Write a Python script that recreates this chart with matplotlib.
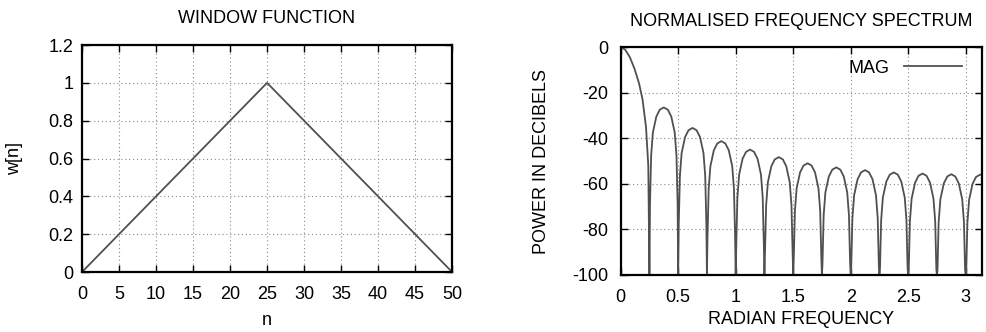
import numpy as np
import matplotlib
matplotlib.use("Agg")
import matplotlib.pyplot as plt

plt.rcParams['font.family'] = ['Liberation Sans', 'DejaVu Sans']
plt.rcParams['axes.unicode_minus'] = False

# window function (triangle), corner points
win_n = [0, 25, 50]
win_w = [0.0, 1.0, 0.0]

# spectrum: main lobe points
main_f = [0.0, 0.04, 0.08, 0.12, 0.16, 0.19, 0.22, 0.24, 0.25]
main_db = [0.0, -1.2, -4.5, -9.5, -16.0, -23.0, -35.0, -52.0, -100.0]

# side lobes: null positions and peak levels
null_f = [0.25, 0.50, 0.75, 1.00, 1.25, 1.50, 1.75, 2.00, 2.25, 2.50, 2.75, 3.00]
peak_db = [-26.5, -35.5, -41.3, -45.0, -48.3, -51.0, -52.8, -54.0, -55.0, -55.5, -55.8, -56.0]

# lobe outline seen on the plot: offset from a null and drop below the lobe peak
lobe_off = [0.0, 0.005, 0.015, 0.03, 0.06, 0.09, 0.125, 0.16, 0.19, 0.22, 0.235, 0.245, 0.25]
lobe_drop = [None, -42.0, -21.0, -11.0, -4.0, -1.0, 0.0, -1.0, -4.0, -11.0, -21.0, -42.0, None]


def spectrum_points():
    f = list(main_f)
    db = list(main_db)
    for a, p in zip(null_f, peak_db):
        for off, drop in zip(lobe_off[1:], lobe_drop[1:]):
            x = a + off
            if x > np.pi:
                break
            f.append(x)
            db.append(-100.0 if drop is None else p + drop)
    f.append(np.pi)
    db.append(peak_db[-1])
    return f, db


def style_axes(ax):
    ax.grid(True, color="#8a8a8a", linestyle=(0, (1, 2.5)), linewidth=0.8)
    ax.tick_params(direction="in", top=True, right=True, length=5, width=1,
                   labelsize=13, colors="black")
    for s in ax.spines.values():
        s.set_linewidth(1.6)


fig = plt.figure(figsize=(9.86, 3.32), dpi=100)

ax1 = fig.add_axes([0.0832, 0.1807, 0.3753, 0.6837])
ax1.plot(win_n, win_w, color="#505050", linewidth=1.3)
ax1.set_xlim(0, 50)
ax1.set_ylim(0, 1.2)
ax1.set_xticks(np.arange(0, 51, 5))
ax1.set_yticks([0, 0.2, 0.4, 0.6, 0.8, 1.0, 1.2])
ax1.set_yticklabels(["0", "0.2", "0.4", "0.6", "0.8", "1", "1.2"])
style_axes(ax1)
ax1.tick_params(axis="x", pad=10)
ax1.tick_params(axis="y", pad=6)
ax1.set_xlabel("n", fontsize=13)
ax1.xaxis.set_label_coords(0.5, -0.175)
ax1.set_ylabel("w[n]", fontsize=13)
ax1.yaxis.set_label_coords(-0.16, 0.5)
fig.text(0.0832 + 0.3753 / 2, 0.943, "WINDOW FUNCTION",
         ha="center", va="center", fontsize=13)

spec_f, spec_db = spectrum_points()
ax2 = fig.add_axes([0.6295, 0.1717, 0.3664, 0.6867])
ax2.plot(spec_f, spec_db, color="#505050", linewidth=1.3, label="MAG")
ax2.set_xlim(0, np.pi)
ax2.set_ylim(-100, 0)
ax2.set_xticks([0, 0.5, 1, 1.5, 2, 2.5, 3])
ax2.set_xticklabels(["0", "0.5", "1", "1.5", "2", "2.5", "3"])
ax2.set_yticks([-100, -80, -60, -40, -20, 0])
style_axes(ax2)
ax2.tick_params(axis="x", pad=10)
ax2.tick_params(axis="y", pad=9)
ax2.set_xlabel("RADIAN FREQUENCY", fontsize=13)
ax2.xaxis.set_label_coords(0.5, -0.16)
ax2.set_ylabel("POWER IN DECIBELS", fontsize=13)
ax2.yaxis.set_label_coords(-0.196, 0.5)
ax2.legend(loc="upper right", frameon=False, fontsize=13, markerfirst=False,
           handlelength=3.2, bbox_to_anchor=(0.98, 1.0), borderaxespad=0.3)
fig.text(0.6295 + 0.3664 / 2, 0.935, "NORMALISED FREQUENCY SPECTRUM",
         ha="center", va="center", fontsize=13)

fig.savefig("out.png", dpi=100)
